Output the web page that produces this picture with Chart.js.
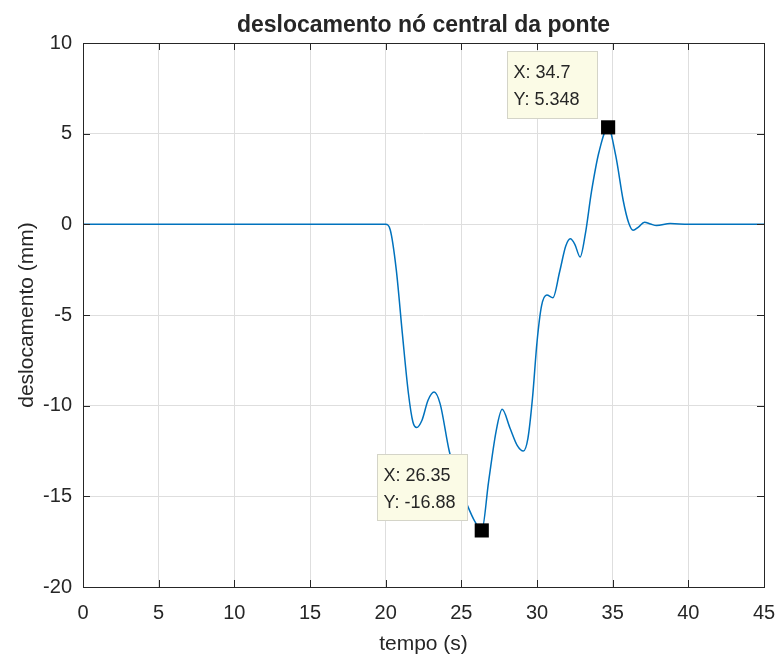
<!DOCTYPE html>
<html>
<head>
<meta charset="utf-8">
<script src="https://cdn.jsdelivr.net/npm/chart.js@4"></script>
<style>
  html, body { margin: 0; padding: 0; background: #fff; }
  #wrap { width: 779px; height: 657px; }
</style>
</head>
<body>
<div id="wrap"><canvas id="ponte" width="779" height="657"></canvas></div>
<script>
// tempo (s) e deslocamento (mm) do nó central
var tempo = [0, 20, 20.3, 20.7, 21.1, 21.5, 21.8, 22.05, 22.4, 22.8, 23.2, 23.6, 24.2, 24.8, 25.4, 25.9, 26.35,
  26.8, 27.3, 27.7, 28.2, 28.7, 29.1, 29.4, 29.7, 30.0, 30.3, 30.65, 31.05, 31.5, 31.9, 32.2, 32.5, 32.85,
  33.2, 33.6, 34.1, 34.7, 35.2, 35.7, 36.05, 36.35, 36.7, 37.1, 37.5, 37.9, 38.8, 40, 45];
var deslocamento = [0, 0, -0.3, -2.5, -6, -9.3, -10.9, -11.2, -10.8, -9.7, -9.25, -9.9, -12.5, -14.2, -15.5, -16.4, -16.88,
  -14.2, -11.4, -10.2, -11.2, -12.2, -12.5, -11.8, -9.6, -6.5, -4.5, -3.9, -4.05, -2.6, -1.2, -0.8, -1.1, -1.8,
  -0.5, 1.8, 4, 5.348, 3.8, 1.3, 0.1, -0.33, -0.15, 0.12, 0.02, -0.07, 0.05, 0, 0];
var xTicks = [0, 5, 10, 15, 20, 25, 30, 35, 40, 45];
var yTicks = [-20, -15, -10, -5, 0, 5, 10];
// pontos marcados (data tips)
var marcadosX = [26.35, 34.7];
var marcadosY = [-16.88, 5.348];

var pts = tempo.map(function(t, i) { return { x: t, y: deslocamento[i] }; });
var marks = marcadosX.map(function(t, i) { return { x: t, y: marcadosY[i] }; });

var FONT = 'Liberation Sans, Arial, sans-serif';
var INK = '#262626';

// caixa, ticks internos, títulos e data tips
var matlabLook = {
  id: 'matlabLook',
  afterDraw: function(chart) {
    var ctx = chart.ctx, a = chart.chartArea;
    var sx = chart.scales.x, sy = chart.scales.y;
    ctx.save();
    ctx.strokeStyle = INK;
    ctx.lineWidth = 1;
    ctx.beginPath();
    xTicks.forEach(function(v) {
      var px = Math.round(sx.getPixelForValue(v)) + 0.5;
      ctx.moveTo(px, a.bottom); ctx.lineTo(px, a.bottom - 7);
      ctx.moveTo(px, a.top); ctx.lineTo(px, a.top + 7);
    });
    yTicks.forEach(function(v) {
      var py = Math.round(sy.getPixelForValue(v)) + 0.5;
      ctx.moveTo(a.left, py); ctx.lineTo(a.left + 7, py);
      ctx.moveTo(a.right, py); ctx.lineTo(a.right - 7, py);
    });
    ctx.stroke();
    ctx.strokeRect(Math.round(a.left) + 0.5, Math.round(a.top) + 0.5,
      Math.round(a.right - a.left), Math.round(a.bottom - a.top));

    ctx.fillStyle = INK;
    ctx.textAlign = 'center';
    ctx.textBaseline = 'alphabetic';
    ctx.font = 'bold 23px ' + FONT;
    ctx.fillText('deslocamento nó central da ponte', (a.left + a.right) / 2, 32);
    ctx.textBaseline = 'middle';
    ctx.font = '21px ' + FONT;
    ctx.fillText('tempo (s)', (a.left + a.right) / 2, 644);
    ctx.save();
    ctx.translate(27, (a.top + a.bottom) / 2);
    ctx.rotate(-Math.PI / 2);
    ctx.fillText('deslocamento (mm)', 0, 0);
    ctx.restore();

    // data tips
    var tips = [
      { i: 0, dx: -105, dy: -76, w: 90, h: 66 },
      { i: 1, dx: -101, dy: -76, w: 90, h: 67 }
    ];
    tips.forEach(function(tp) {
      var px = sx.getPixelForValue(marks[tp.i].x);
      var py = sy.getPixelForValue(marks[tp.i].y);
      var bx = Math.round(px + tp.dx) + 0.5, by = Math.round(py + tp.dy) + 0.5;
      ctx.fillStyle = '#fbfbe6';
      ctx.strokeStyle = '#d4d4c8';
      ctx.fillRect(bx, by, tp.w, tp.h);
      ctx.strokeRect(bx, by, tp.w, tp.h);
      ctx.fillStyle = INK;
      ctx.textAlign = 'left';
      ctx.font = '18px ' + FONT;
      ctx.fillText('X: ' + marks[tp.i].x, bx + 6, by + 22);
      ctx.fillText('Y: ' + marks[tp.i].y, bx + 6, by + 49);
    });
    ctx.restore();
  }
};

new Chart(document.getElementById('ponte'), {
  type: 'scatter',
  data: {
    datasets: [{
      data: pts,
      showLine: true,
      borderColor: '#0072BD',
      borderWidth: 1.5,
      pointRadius: 0,
      cubicInterpolationMode: 'monotone',
      order: 2
    }, {
      data: marks,
      showLine: false,
      pointStyle: 'rect',
      pointRadius: 10,
      backgroundColor: '#000',
      borderColor: '#000',
      borderWidth: 0,
      order: 1
    }]
  },
  options: {
    responsive: false,
    animation: false,
    events: [],
    layout: { padding: { top: 43, right: 15, left: 0, bottom: 0 } },
    plugins: { legend: { display: false }, tooltip: { enabled: false }, title: { display: false } },
    scales: {
      x: {
        type: 'linear', min: 0, max: 45,
        afterBuildTicks: function(s) { s.ticks = xTicks.map(function(v) { return { value: v }; }); },
        afterFit: function(s) { s.height = 70; s.paddingLeft = 0; s.paddingRight = 0; },
        grid: { color: '#dedede', drawTicks: false },
        border: { display: false },
        ticks: { padding: 14, color: INK, font: { family: FONT, size: 20 }, maxRotation: 0 }
      },
      y: {
        type: 'linear', min: -20, max: 10,
        afterBuildTicks: function(s) { s.ticks = yTicks.map(function(v) { return { value: v }; }); },
        afterFit: function(s) { s.width = 83; s.paddingTop = 0; s.paddingBottom = 0; },
        grid: { color: '#dedede', drawTicks: false },
        border: { display: false },
        ticks: { padding: 11, color: INK, font: { family: FONT, size: 20 } }
      }
    }
  },
  plugins: [matlabLook]
});
</script>
</body>
</html>
